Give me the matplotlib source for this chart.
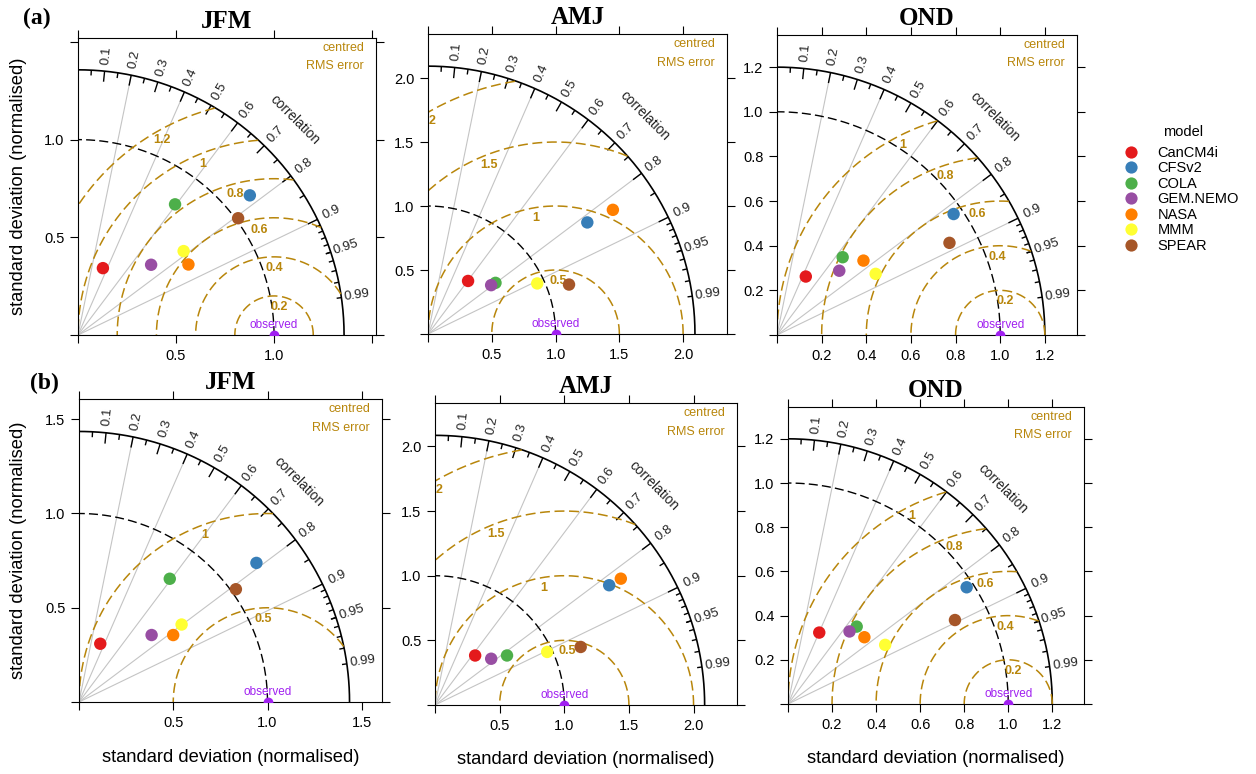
import numpy as np
import matplotlib
matplotlib.use("Agg")
import matplotlib.pyplot as plt
from matplotlib.lines import Line2D
from matplotlib.collections import LineCollection

plt.rcParams['font.family'] = ['Liberation Sans', 'DejaVu Sans']

models = ["CanCM4i", "CFSv2", "COLA", "GEM.NEMO", "NASA", "MMM", "SPEAR"]
model_colors = ['#E41A1C', '#377EB8', '#4DAF4A', '#984EA3', '#FF7F00', '#FFFF33', '#A65628']
seasons = ["JFM", "AMJ", "OND"]

# (a) normalised standard deviation and correlation per model
sd_a_jfm = [0.365, 1.131, 0.832, 0.518, 0.669, 0.689, 1.012]
cor_a_jfm = [0.348, 0.775, 0.595, 0.720, 0.842, 0.782, 0.807]
sd_a_amj = [0.520, 1.523, 0.663, 0.625, 1.744, 0.943, 1.171]
cor_a_amj = [0.604, 0.820, 0.798, 0.792, 0.831, 0.908, 0.944]
sd_a_ond = [0.292, 0.959, 0.456, 0.401, 0.511, 0.520, 0.876]
cor_a_ond = [0.442, 0.825, 0.645, 0.696, 0.758, 0.850, 0.882]

# (b)
sd_b_jfm = [0.329, 1.196, 0.812, 0.524, 0.613, 0.682, 1.025]
cor_b_jfm = [0.343, 0.787, 0.593, 0.735, 0.815, 0.798, 0.812]
sd_b_amj = [0.493, 1.635, 0.676, 0.563, 1.738, 0.960, 1.213]
cor_b_amj = [0.630, 0.824, 0.824, 0.772, 0.827, 0.904, 0.929]
sd_b_ond = [0.353, 0.968, 0.469, 0.431, 0.460, 0.516, 0.848]
cor_b_ond = [0.402, 0.838, 0.665, 0.648, 0.754, 0.855, 0.894]

# centred RMS error contours
gamma_a_jfm = [0.2, 0.4, 0.6, 0.8, 1.0, 1.2]
gamma_b_jfm = [0.5, 1.0]
gamma_amj = [0.5, 1.0, 1.5, 2.0]
gamma_ond = [0.2, 0.4, 0.6, 0.8, 1.0]
tick_step = {"JFM": 0.5, "AMJ": 0.5, "OND": 0.2}

corr_lines = [0.2, 0.4, 0.6, 0.8, 0.9]
corr_labels = [0.1, 0.2, 0.3, 0.4, 0.5, 0.6, 0.7, 0.8, 0.9, 0.95, 0.99]
obs_sd = 1.0

GOLD = '#B8860B'
OBS_COL = '#A020F0'
W, H = 1256, 774


def px_box(l, t, r, b):
    return [l / W, 1 - b / H, (r - l) / W, (b - t) / H]


def taylor(ax, sd, cor, gamma, step):
    sd = np.asarray(sd)
    cor = np.asarray(cor)
    maxsd = 1.2 * max(sd.max(), obs_sd)
    lim = 1.12 * maxsd
    ax.set_xlim(0, lim)
    ax.set_ylim(0, lim)

    ticks = np.arange(0, lim, step)
    labs = ['' if (t < 1e-9 or t > 0.98 * lim) else f"{t:.1f}" for t in ticks]
    ax.set_xticks(ticks)
    ax.set_xticklabels(labs)
    ax.set_yticks(ticks)
    ax.set_yticklabels(labs)
    ax.tick_params(direction='out', length=5.8, width=0.8, top=True, right=True,
                   labeltop=False, labelright=False, labelsize=10.5, pad=4)
    for s in ax.spines.values():
        s.set_linewidth(0.8)

    # grey correlation rays
    for c in corr_lines:
        ax.plot([0, maxsd * c], [0, maxsd * np.sqrt(1 - c ** 2)], color='#c4c4c4', lw=0.8, zorder=1)

    th = np.linspace(0, np.pi / 2, 300)
    ax.plot(maxsd * np.cos(th), maxsd * np.sin(th), color='black', lw=1.2, zorder=2)
    ax.plot(obs_sd * np.cos(th), obs_sd * np.sin(th), color='black', lw=1.0,
            ls=(0, (6.5, 3)), zorder=2)

    # ticks on the correlation arc
    segs = []
    for vals, inner in [(np.arange(0.1, 0.91, 0.1), 0.96),
                        (np.arange(0.05, 0.96, 0.1), 0.98),
                        (np.arange(0.91, 0.995, 0.01), 0.982)]:
        a = np.arccos(vals)
        for ang in a:
            segs.append([(maxsd * np.cos(ang), maxsd * np.sin(ang)),
                         (inner * maxsd * np.cos(ang), inner * maxsd * np.sin(ang))])
    ax.add_collection(LineCollection(segs, colors='black', linewidths=1.0, zorder=2))

    for c in corr_labels:
        ang = np.arccos(c)
        ax.text(1.06 * maxsd * np.cos(ang), 1.06 * maxsd * np.sin(ang), f"{c:g}",
                rotation=np.degrees(ang), rotation_mode='anchor', ha='center', va='center',
                fontsize=9.5, color='#222222', clip_on=False)
    ax.text(1.15 * maxsd * np.cos(np.pi / 4), 1.15 * maxsd * np.sin(np.pi / 4), "correlation",
            rotation=-45, rotation_mode='anchor', ha='center', va='center', fontsize=9.8,
            color='#222222')

    # centred RMS error arcs around the observed point
    phi = np.linspace(0, np.pi, 600)
    for g in gamma:
        x = obs_sd + g * np.cos(phi)
        y = g * np.sin(phi)
        keep = (x >= 0) & (x ** 2 + y ** 2 <= maxsd ** 2)
        ax.plot(np.where(keep, x, np.nan), np.where(keep, y, np.nan), color=GOLD, lw=1.1,
                ls=(0, (6.5, 3)), zorder=2)
        ang = np.radians(76 + 48 * g / maxsd)
        if g > 0.97:
            ang = min(ang, np.arccos(-0.97 / g))
        ax.annotate(f"{g:g}", xy=(obs_sd + g * np.cos(ang), g * np.sin(ang)), xytext=(0, -3.5),
                    textcoords='offset points', ha='center', va='top', fontsize=9,
                    fontweight='bold', color=GOLD, zorder=3)

    ax.text(0.96, 0.967, "centred", transform=ax.transAxes, ha='right', va='center',
            fontsize=9, color=GOLD)
    ax.text(0.96, 0.905, "RMS error", transform=ax.transAxes, ha='right', va='center',
            fontsize=9, color=GOLD)

    ax.scatter([obs_sd], [0], s=50, color=OBS_COL, zorder=4, linewidths=0)
    ax.annotate("observed", xy=(obs_sd, 0), xytext=(0, 3), textcoords='offset points',
                ha='center', va='bottom', fontsize=8.5, color=OBS_COL, zorder=4)

    ax.scatter(sd * cor, sd * np.sqrt(1 - cor ** 2), s=80, c=model_colors, linewidths=0, zorder=5)


fig = plt.figure(figsize=(W / 100, H / 100), dpi=100)

boxes_a = [(78, 38, 376, 335), (428, 34, 727, 334), (777, 35, 1077, 335)]
boxes_b = [(79, 399, 382, 702), (435, 403, 737, 705), (788, 407, 1084, 704)]
data_a = [(sd_a_jfm, cor_a_jfm, gamma_a_jfm), (sd_a_amj, cor_a_amj, gamma_amj),
          (sd_a_ond, cor_a_ond, gamma_ond)]
data_b = [(sd_b_jfm, cor_b_jfm, gamma_b_jfm), (sd_b_amj, cor_b_amj, gamma_amj),
          (sd_b_ond, cor_b_ond, gamma_ond)]

for row, (boxes, data) in enumerate([(boxes_a, data_a), (boxes_b, data_b)]):
    for i, season in enumerate(seasons):
        ax = fig.add_axes(px_box(*boxes[i]))
        sd, cor, gamma = data[i]
        taylor(ax, sd, cor, gamma, tick_step[season])
        ax.set_title(season, fontfamily='Liberation Serif', fontweight='bold', fontsize=18, pad=7)
        if i == 0:
            ax.set_ylabel("standard deviation (normalised)", fontsize=13.2)
            ax.yaxis.set_label_coords(-0.20, 0.5)
            ax.yaxis.label.set_va('center')
        if row == 1:
            ax.set_xlabel("standard deviation (normalised)", fontsize=13.2)
            ax.xaxis.set_label_coords(0.5, -0.182)
            ax.xaxis.label.set_va('center')

fig.text(23 / W, 1 - 18 / H, "(a)", fontfamily='Liberation Serif', fontweight='bold',
         fontsize=17, va='center', ha='left')
fig.text(30 / W, 1 - 383 / H, "(b)", fontfamily='Liberation Serif', fontweight='bold',
         fontsize=17, va='center', ha='left')

handles = [Line2D([], [], marker='o', ls='', color=c, markersize=8.8, markeredgewidth=0)
           for c in model_colors]
fig.legend(handles, models, loc='upper left', bbox_to_anchor=(1124 / W, 1 - 146 / H),
           frameon=False, fontsize=10.5, labelspacing=0.1, handlelength=1.0,
           handletextpad=1.3, borderpad=0, borderaxespad=0)
fig.text(1163 / W, 1 - 132 / H, "model", fontsize=10.5, ha='left', va='center')

fig.savefig("out.png", dpi=100)
